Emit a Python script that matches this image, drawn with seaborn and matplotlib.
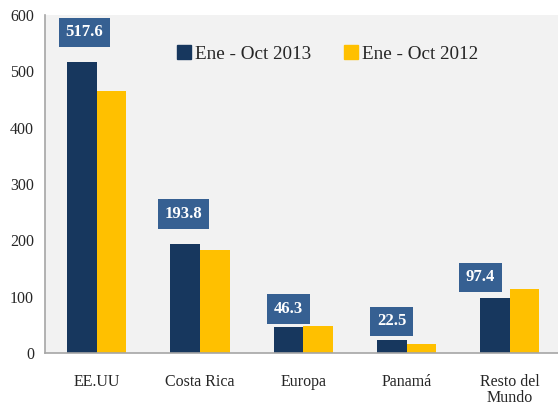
#imports
import pandas as pd
import numpy as np
import matplotlib
matplotlib.use("Agg")
import matplotlib.pyplot as plt
import seaborn as sns
from matplotlib.lines import Line2D

#data
categories = ["EE.UU", "Costa Rica", "Europa", "Panamá", "Resto del\nMundo"]
series = ["Ene - Oct 2013", "Ene - Oct 2012"]
values_2013 = [517.6, 193.8, 46.3, 22.5, 97.4]
values_2012 = [465.5, 182.0, 48.0, 16.5, 113.0]

#long format for seaborn
df = pd.DataFrame({
    "Destino": categories * 2,
    "Periodo": [series[0]] * len(categories) + [series[1]] * len(categories),
    "Valor": values_2013 + values_2012,
})

navy = "#17375e"
gold = "#ffc000"
box_color = "#366092"
spine_gray = "#a6a6a6"

sns.set_style("white")
plt.rcParams["font.family"] = ["Liberation Serif", "DejaVu Serif"]

fig = plt.figure(figsize=(5.58, 4.09), dpi=100)
ax = fig.add_axes([0.081, 0.137, 0.925, 0.826])
ax.set_facecolor("#f2f2f2")

sns.barplot(data=df, x="Destino", y="Valor", hue="Periodo",
            palette=[navy, gold], width=0.575, gap=0, saturation=1,
            edgecolor="none", legend=False, ax=ax)

#value boxes above the 2013 bars (offsets in points: x, y)
label_offsets = [(1.8, 21), (-1, 21.5), (0, 13), (0, 13.7), (-10.5, 15)]
for i, v in enumerate(values_2013):
    dx, dy = label_offsets[i]
    ax.annotate(f"{v:.1f}", xy=(i - 0.1437, v), xytext=(dx, dy),
                textcoords="offset points", ha="center", va="center",
                color="white", fontsize=12, fontweight="bold",
                bbox=dict(boxstyle="square,pad=0.4", fc=box_color, ec="none"))

ax.set_xlim(-0.5, 4.5)
ax.set_ylim(0, 600)
ax.set_yticks(range(0, 601, 100))
ax.set_xlabel("")
ax.set_ylabel("")

#tick marks between categories, no marks at the labels
ax.set_xticks(np.arange(-0.5, 4.6, 1), minor=True)
ax.tick_params(axis="x", which="major", length=0, pad=15, labelsize=11.5)
ax.tick_params(axis="x", which="minor", length=6, color=spine_gray, width=1)
ax.tick_params(axis="y", length=5, color=spine_gray, width=1, labelsize=11.5, pad=3)
for lbl in ax.get_xticklabels():
    lbl.set_linespacing(1.0)

for side in ["top", "right"]:
    ax.spines[side].set_visible(False)
for side in ["left", "bottom"]:
    ax.spines[side].set_color(spine_gray)
    ax.spines[side].set_linewidth(1.2)

#legend with square markers
handles = [Line2D([], [], marker="s", linestyle="none", markersize=9.5, color=c)
           for c in [navy, gold]]
ax.legend(handles, series, ncol=2, frameon=False, fontsize=13.8,
          loc="center", bbox_to_anchor=(0.545, 0.885), handletextpad=0.05,
          handlelength=1.0, columnspacing=1.6)

plt.savefig("out.png", dpi=100)
